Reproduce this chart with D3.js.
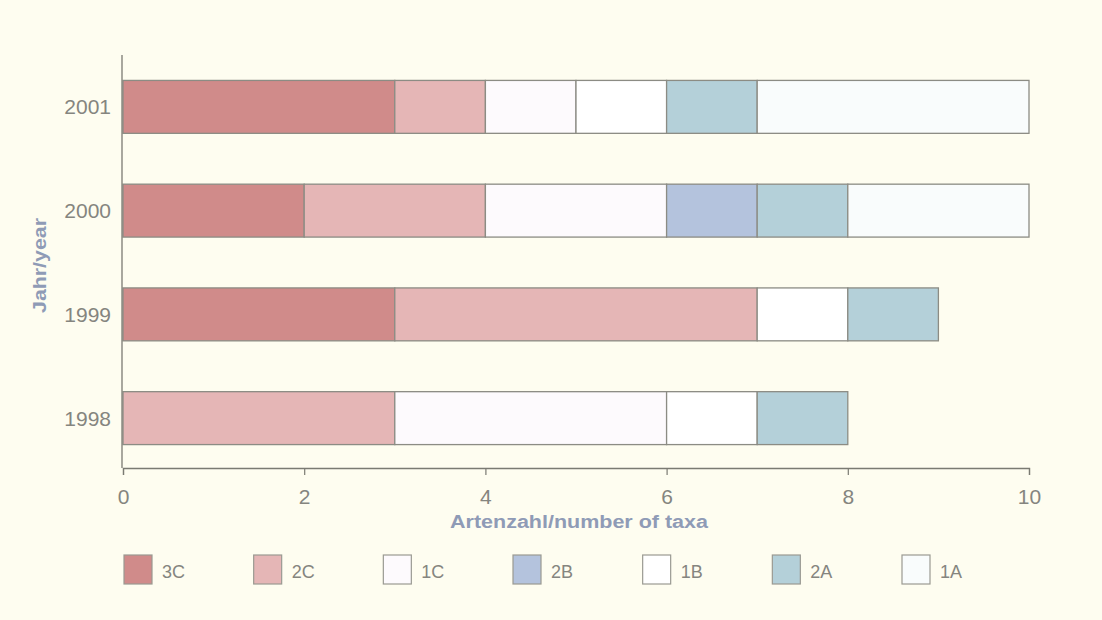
<!DOCTYPE html>
<html><head><meta charset="utf-8">
<script src="https://cdn.jsdelivr.net/npm/d3@7"></script>
<style>
html,body{margin:0;padding:0;background:#fefdf0;}
svg{display:block;}
</style></head>
<body>
<svg id="c" width="1102" height="620"></svg>
<script>
const years = ["2001", "2000", "1999", "1998"];
const categories = ["3C", "2C", "1C", "2B", "1B", "2A", "1A"];
const v3C = [3, 2, 3, 0];
const v2C = [1, 2, 4, 3];
const v1C = [1, 2, 0, 3];
const v2B = [0, 1, 0, 0];
const v1B = [1, 0, 1, 1];
const v2A = [1, 1, 1, 1];
const v1A = [3, 2, 0, 0];
const xTicks = [0, 2, 4, 6, 8, 10];
const colors = ["#d08b8a", "#e5b6b6", "#fdfafd", "#b4c3dd", "#ffffff", "#b4d0d9", "#f9fcfc"];

const seriesVals = [v3C, v2C, v1C, v2B, v1B, v2A, v1A];
const rows = years.map((y, i) => {
  const o = {year: y};
  categories.forEach((c, k) => o[c] = seriesVals[k][i]);
  return o;
});
const stacked = d3.stack().keys(categories)(rows);

const svg = d3.select("#c");
svg.append("rect").attr("width", 1102).attr("height", 620).attr("fill", "#fefdf0");

const x = d3.scaleLinear().domain([0, 10]).range([123, 1029]);
const y = d3.scaleBand().domain(years).range([55, 470]).paddingInner(0.49).paddingOuter(0.245);
const color = d3.scaleOrdinal().domain(categories).range(colors);

// bars
svg.append("g").selectAll("g").data(stacked).join("g")
  .attr("fill", d => color(d.key))
  .selectAll("rect").data(d => d.filter(s => s[1] - s[0] > 0)).join("rect")
  .attr("x", d => x(d[0]))
  .attr("y", d => y(d.data.year))
  .attr("width", d => x(d[1]) - x(d[0]))
  .attr("height", y.bandwidth())
  .attr("stroke", "#8c8c84")
  .attr("stroke-width", 1.3);

// x axis
const xAxis = svg.append("g").attr("transform", "translate(0,468)")
  .call(d3.axisBottom(x).tickValues(xTicks).tickFormat(d3.format("d")).tickSize(7).tickPadding(14));
xAxis.select(".domain").attr("stroke", "#7a7a72").attr("stroke-width", 1.3);
xAxis.selectAll(".tick line").attr("stroke", "#7a7a72").attr("stroke-width", 1.2);
xAxis.selectAll("text").attr("fill", "#85857f").attr("font-family", "Liberation Sans, Arial, sans-serif").attr("font-size", 21);

// y axis line
svg.append("line").attr("x1", 122).attr("x2", 122).attr("y1", 55).attr("y2", 468)
  .attr("stroke", "#7a7a72").attr("stroke-width", 1.3);
svg.append("g").selectAll("text").data(years).join("text")
  .attr("x", 111).attr("y", d => y(d) + y.bandwidth() / 2)
  .attr("text-anchor", "end").attr("dominant-baseline", "central")
  .attr("fill", "#85857f").attr("font-family", "Liberation Sans, Arial, sans-serif").attr("font-size", 21)
  .text(d => d);

// axis titles
svg.append("text").attr("x", 450).attr("y", 528)
  .attr("fill", "#8f9bb6").attr("font-family", "Liberation Sans, Arial, sans-serif")
  .attr("font-weight", "bold").attr("font-size", 18)
  .attr("textLength", 258).attr("lengthAdjust", "spacingAndGlyphs")
  .text("Artenzahl/number of taxa");
svg.append("text").attr("transform", "translate(46,313) rotate(-90)")
  .attr("fill", "#8f9bb6").attr("font-family", "Liberation Sans, Arial, sans-serif")
  .attr("font-weight", "bold").attr("font-size", 18)
  .attr("textLength", 95).attr("lengthAdjust", "spacingAndGlyphs")
  .text("Jahr/year");

// legend
const lx = d3.scalePoint().domain(categories).range([124, 902]);
const lg = svg.append("g").selectAll("g").data(categories).join("g")
  .attr("transform", d => `translate(${lx(d)},555)`);
lg.append("rect").attr("width", 28).attr("height", 29)
  .attr("fill", d => color(d)).attr("stroke", "#9a9a92").attr("stroke-width", 1.2);
lg.append("text").attr("x", 38).attr("y", 17).attr("dominant-baseline", "central")
  .attr("fill", "#85857f").attr("font-family", "Liberation Sans Narrow, Liberation Sans, Arial, sans-serif")
  .attr("font-size", 18).text(d => d);
</script>
</body></html>
